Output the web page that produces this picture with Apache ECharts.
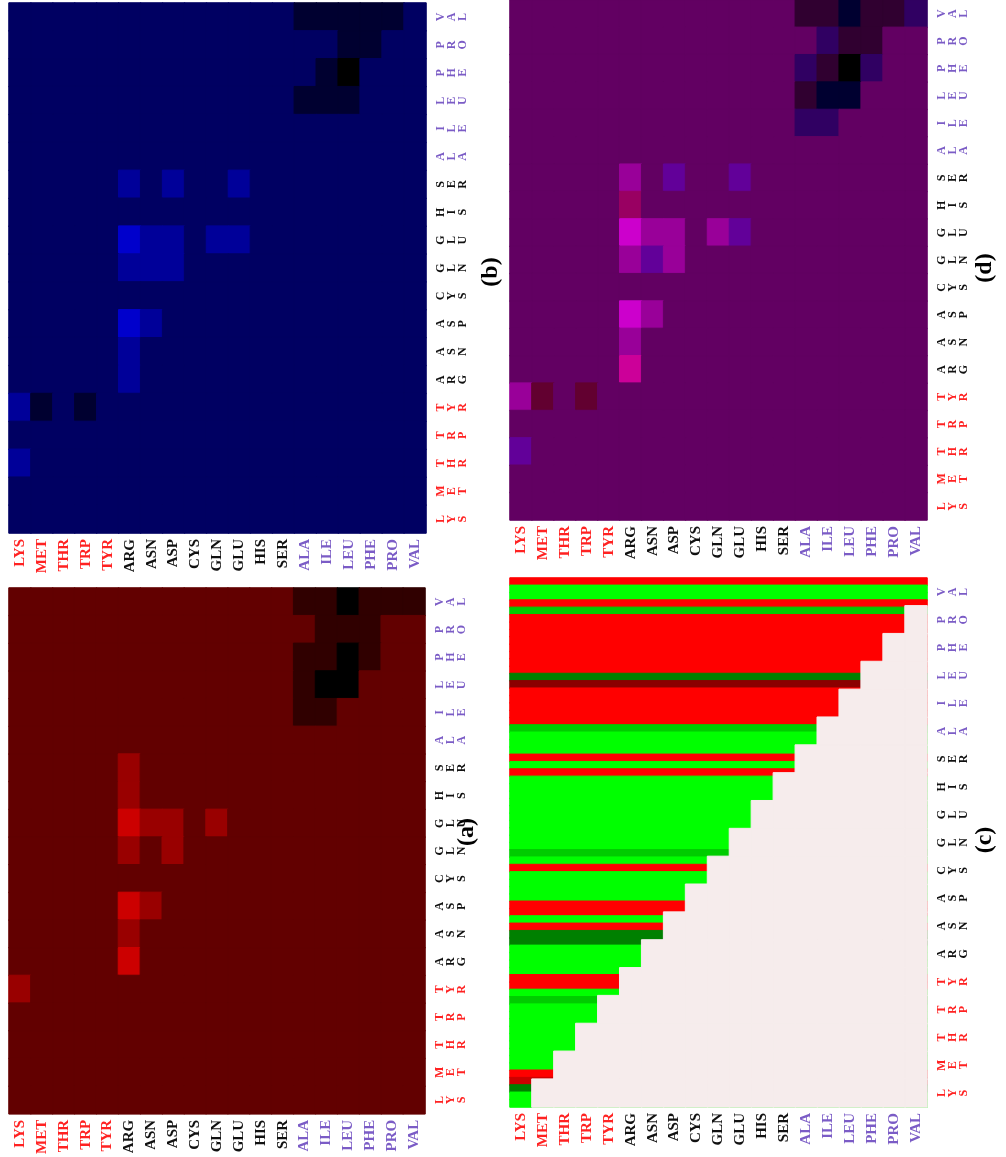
<!DOCTYPE html>
<html>
<head>
<meta charset="utf-8">
<script src="https://cdn.jsdelivr.net/npm/echarts@6/dist/echarts.min.js"></script>
<style>
  html, body { margin: 0; padding: 0; background: #fff; }
  #chart { width: 1006px; height: 1157px; }
</style>
</head>
<body>
<div id="chart"></div>
<script>
// residues along the bottom (left -> right)
const RESIDUES = ['LYS', 'MET', 'THR', 'TRP', 'TYR', 'ARG', 'ASN', 'ASP', 'CYS', 'GLN',
  'GLU', 'HIS', 'SER', 'ALA', 'ILE', 'LEU', 'PHE', 'PRO', 'VAL'];
// residues down the right side (top -> bottom)
const ROWS = RESIDUES.slice().reverse();
const RED_GROUP = ['LYS', 'MET', 'THR', 'TRP', 'TYR'];
const PURPLE_GROUP = ['ALA', 'ILE', 'LEU', 'PHE', 'PRO', 'VAL'];

// intensity levels: -2 black, -1 dark, 0 base, 1 medium, 2 bright
const LEVELS = [-2, -1, 0, 1, 2];
const CHANNEL = [0x00, 0x30, 0x62, 0x99, 0xcc];

// (a) rows VAL..LYS (top -> bottom), columns LYS..VAL
const A_LEVELS = [
  [0, 0, 0, 0, 0, 0, 0, 0, 0, 0, 0, 0, 0, -1, -1, -2, -1, -1, -1], // VAL
  [0, 0, 0, 0, 0, 0, 0, 0, 0, 0, 0, 0, 0, 0, -1, -1, -1, 0, 0],    // PRO
  [0, 0, 0, 0, 0, 0, 0, 0, 0, 0, 0, 0, 0, -1, -1, -2, -1, 0, 0],   // PHE
  [0, 0, 0, 0, 0, 0, 0, 0, 0, 0, 0, 0, 0, -1, -2, -2, 0, 0, 0],    // LEU
  [0, 0, 0, 0, 0, 0, 0, 0, 0, 0, 0, 0, 0, -1, -1, 0, 0, 0, 0],     // ILE
  [0, 0, 0, 0, 0, 0, 0, 0, 0, 0, 0, 0, 0, 0, 0, 0, 0, 0, 0],       // ALA
  [0, 0, 0, 0, 0, 1, 0, 0, 0, 0, 0, 0, 0, 0, 0, 0, 0, 0, 0],       // SER
  [0, 0, 0, 0, 0, 1, 0, 0, 0, 0, 0, 0, 0, 0, 0, 0, 0, 0, 0],       // HIS
  [0, 0, 0, 0, 0, 2, 1, 1, 0, 1, 0, 0, 0, 0, 0, 0, 0, 0, 0],       // GLU
  [0, 0, 0, 0, 0, 1, 0, 1, 0, 0, 0, 0, 0, 0, 0, 0, 0, 0, 0],       // GLN
  [0, 0, 0, 0, 0, 0, 0, 0, 0, 0, 0, 0, 0, 0, 0, 0, 0, 0, 0],       // CYS
  [0, 0, 0, 0, 0, 2, 1, 0, 0, 0, 0, 0, 0, 0, 0, 0, 0, 0, 0],       // ASP
  [0, 0, 0, 0, 0, 1, 0, 0, 0, 0, 0, 0, 0, 0, 0, 0, 0, 0, 0],       // ASN
  [0, 0, 0, 0, 0, 2, 0, 0, 0, 0, 0, 0, 0, 0, 0, 0, 0, 0, 0],       // ARG
  [1, 0, 0, 0, 0, 0, 0, 0, 0, 0, 0, 0, 0, 0, 0, 0, 0, 0, 0],       // TYR
  [0, 0, 0, 0, 0, 0, 0, 0, 0, 0, 0, 0, 0, 0, 0, 0, 0, 0, 0],       // TRP
  [0, 0, 0, 0, 0, 0, 0, 0, 0, 0, 0, 0, 0, 0, 0, 0, 0, 0, 0],       // THR
  [0, 0, 0, 0, 0, 0, 0, 0, 0, 0, 0, 0, 0, 0, 0, 0, 0, 0, 0],       // MET
  [0, 0, 0, 0, 0, 0, 0, 0, 0, 0, 0, 0, 0, 0, 0, 0, 0, 0, 0]        // LYS
];

// (b) same layout
const B_LEVELS = [
  [0, 0, 0, 0, 0, 0, 0, 0, 0, 0, 0, 0, 0, -1, -1, -1, -1, -1, 0],  // VAL
  [0, 0, 0, 0, 0, 0, 0, 0, 0, 0, 0, 0, 0, 0, 0, -1, -1, 0, 0],     // PRO
  [0, 0, 0, 0, 0, 0, 0, 0, 0, 0, 0, 0, 0, 0, -1, -2, 0, 0, 0],     // PHE
  [0, 0, 0, 0, 0, 0, 0, 0, 0, 0, 0, 0, 0, -1, -1, -1, 0, 0, 0],    // LEU
  [0, 0, 0, 0, 0, 0, 0, 0, 0, 0, 0, 0, 0, 0, 0, 0, 0, 0, 0],       // ILE
  [0, 0, 0, 0, 0, 0, 0, 0, 0, 0, 0, 0, 0, 0, 0, 0, 0, 0, 0],       // ALA
  [0, 0, 0, 0, 0, 1, 0, 1, 0, 0, 1, 0, 0, 0, 0, 0, 0, 0, 0],       // SER
  [0, 0, 0, 0, 0, 0, 0, 0, 0, 0, 0, 0, 0, 0, 0, 0, 0, 0, 0],       // HIS
  [0, 0, 0, 0, 0, 2, 1, 1, 0, 1, 1, 0, 0, 0, 0, 0, 0, 0, 0],       // GLU
  [0, 0, 0, 0, 0, 1, 1, 1, 0, 0, 0, 0, 0, 0, 0, 0, 0, 0, 0],       // GLN
  [0, 0, 0, 0, 0, 0, 0, 0, 0, 0, 0, 0, 0, 0, 0, 0, 0, 0, 0],       // CYS
  [0, 0, 0, 0, 0, 2, 1, 0, 0, 0, 0, 0, 0, 0, 0, 0, 0, 0, 0],       // ASP
  [0, 0, 0, 0, 0, 1, 0, 0, 0, 0, 0, 0, 0, 0, 0, 0, 0, 0, 0],       // ASN
  [0, 0, 0, 0, 0, 1, 0, 0, 0, 0, 0, 0, 0, 0, 0, 0, 0, 0, 0],       // ARG
  [1, -1, 0, -1, 0, 0, 0, 0, 0, 0, 0, 0, 0, 0, 0, 0, 0, 0, 0],     // TYR
  [0, 0, 0, 0, 0, 0, 0, 0, 0, 0, 0, 0, 0, 0, 0, 0, 0, 0, 0],       // TRP
  [1, 0, 0, 0, 0, 0, 0, 0, 0, 0, 0, 0, 0, 0, 0, 0, 0, 0, 0],       // THR
  [0, 0, 0, 0, 0, 0, 0, 0, 0, 0, 0, 0, 0, 0, 0, 0, 0, 0, 0],       // MET
  [0, 0, 0, 0, 0, 0, 0, 0, 0, 0, 0, 0, 0, 0, 0, 0, 0, 0, 0]        // LYS
];

// (c) 72 horizontal stripes, top -> bottom
// R red, G green, g mid green, D dark green, K dark red, M mid red
const C_STRIPES = [
  'R', 'G', 'G', 'R', 'g', 'R', 'R', 'R', 'R', 'R', 'R', 'R', 'R', 'D', 'K', 'R', 'R', 'R',
  'R', 'R', 'g', 'G', 'G', 'G', 'R', 'G', 'R', 'G', 'G', 'G', 'G', 'G', 'G', 'G', 'G', 'G',
  'G', 'g', 'G', 'R', 'G', 'G', 'G', 'G', 'R', 'R', 'G', 'R', 'D', 'D', 'G', 'G', 'G', 'G',
  'R', 'R', 'G', 'g', 'G', 'G', 'G', 'G', 'G', 'G', 'G', 'G', 'G', 'R', 'M', 'D', 'G', 'G'
];
const STRIPE_COLORS = { R: '#ff0000', G: '#00ff00', g: '#00cc00', D: '#008000', K: '#8b0000', M: '#cc0000' };
// filled columns per row (VAL row on top)
const C_ROW_FILL = [19, 18, 17, 16, 15, 14, 13, 12, 11, 10, 9, 8, 7, 6, 5, 4, 3, 2, 1];
const MASK_COLOR = '#f6ecec';

const PANEL_TAGS = ['(a)', '(b)', '(c)', '(d)'];

const FONT = '"Liberation Serif", "Times New Roman", serif';

const labelColor = (v) =>
  RED_GROUP.includes(v) ? '#ff2222' : PURPLE_GROUP.includes(v) ? '#7b5cc6' : '#111111';

const hex2 = (n) => n.toString(16).padStart(2, '0');
const rgb = (r, g, b) => '#' + hex2(r) + hex2(g) + hex2(b);
const ch = (level) => CHANNEL[LEVELS.indexOf(level)];

// cell with matching border so neighbouring cells leave no seam
const cell = (value, color) => ({
  value,
  itemStyle: { color, borderColor: color, borderWidth: 1 }
});

const aCells = [];
const bCells = [];
const dCells = [];
A_LEVELS.forEach((row, r) => row.forEach((v, c) => {
  const w = B_LEVELS[r][c];
  aCells.push(cell([c, r, v], rgb(ch(v), 0, 0)));
  bCells.push(cell([c, r, w], rgb(0, 0, ch(w))));
  // (d) overlays the red channel of (a) with the blue channel of (b)
  dCells.push(cell([c, r, v, w], rgb(ch(v), 0, ch(w))));
}));

const stripeCells = C_STRIPES.map((s, i) => cell([0, i, i], STRIPE_COLORS[s]));

const maskCells = [];
C_ROW_FILL.forEach((fill, r) => {
  for (let c = fill; c < RESIDUES.length; c++) maskCells.push(cell([c, r, 1], MASK_COLOR));
});

// panel layout: a, b, c, d
const GRIDS = [
  { left: 9, top: 588, width: 416, height: 528 },
  { left: 9, top: 3, width: 417, height: 530 },
  { left: 510, top: 578, width: 417, height: 529 },
  { left: 510, top: -10, width: 417, height: 530 }
];
const TAG_POS = [[467, 832], [491, 272], [985, 840], [985, 268]];

const chart = echarts.init(document.getElementById('chart'));

const xAxes = GRIDS.map((g, i) => ({
  gridIndex: i,
  type: 'category',
  data: RESIDUES,
  position: 'bottom',
  axisLine: { show: false },
  axisTick: { show: false },
  splitLine: { show: false },
  axisLabel: {
    interval: 0,
    rotate: 90,
    margin: 6,
    fontSize: 15,
    fontWeight: 'bold',
    fontFamily: FONT,
    color: labelColor
  }
}));
const yAxes = GRIDS.map((g, i) => ({
  gridIndex: i,
  type: 'category',
  data: ROWS,
  inverse: true,
  position: 'right',
  axisLine: { show: false },
  axisTick: { show: false },
  splitLine: { show: false },
  axisLabel: {
    interval: 0,
    rotate: 90,
    margin: 9,
    fontSize: 12,
    lineHeight: 11,
    fontWeight: 'bold',
    fontFamily: FONT,
    color: labelColor,
    formatter: (v) => v.split('').join('\n')
  }
}));
// hidden axes for the stripe layer of (c)
xAxes.push({ gridIndex: 2, type: 'category', data: [''], show: false });
yAxes.push({ gridIndex: 2, type: 'category', data: C_STRIPES.map((s, i) => i), inverse: true, show: false });

const heat = (xi, yi, data) => ({
  type: 'heatmap',
  xAxisIndex: xi,
  yAxisIndex: yi,
  data,
  emphasis: { disabled: true }
});

chart.setOption({
  animation: false,
  backgroundColor: '#ffffff',
  grid: GRIDS,
  xAxis: xAxes,
  yAxis: yAxes,
  series: [
    heat(0, 0, aCells),
    heat(1, 1, bCells),
    heat(4, 4, stripeCells),
    heat(2, 2, maskCells),
    heat(3, 3, dCells)
  ],
  graphic: PANEL_TAGS.map((t, i) => ({
    type: 'text',
    x: TAG_POS[i][0],
    y: TAG_POS[i][1],
    rotation: Math.PI / 2,
    style: {
      text: t,
      fontSize: 24,
      fontWeight: 'bold',
      fontFamily: FONT,
      fill: '#000',
      align: 'center',
      verticalAlign: 'middle'
    }
  }))
});
</script>
</body>
</html>
